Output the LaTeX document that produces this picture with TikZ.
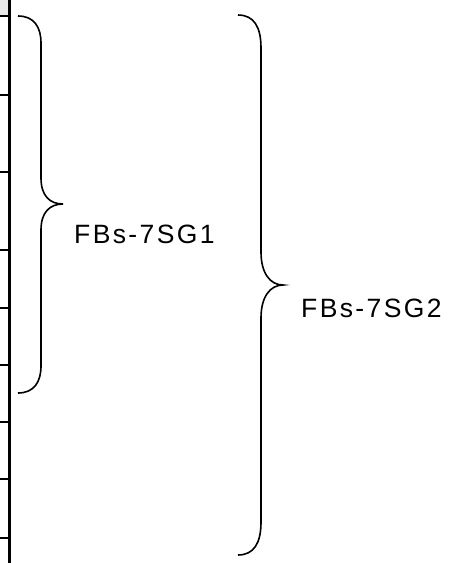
\documentclass[tikz,border=0pt]{standalone}
\usepackage{fontspec}
\newfontfamily\bracefont{Liberation Sans}[LetterSpace=9]
\usetikzlibrary{positioning}

\begin{document}
\begin{tikzpicture}[x=1pt,y=-1pt]
			\tikzstyle{every node}=[font=\bracefont\fontsize{26.5}{30}\selectfont, inner sep=0pt]
			\useasboundingbox (0,0) rectangle (453,563);
			\fill [gray!18] (0,0) rectangle (9,15.7);
			\draw [line width=2.6pt] (9.3,0) -- (9.3,563);
			\foreach \y in {15.7,95,172,250,308,365,422,479,538}
				\draw [line width=2pt] (0,\y) -- (9.3,\y);
			% FBs-7SG1
			\draw [line width=1.6pt] (18,16) .. controls (34,16) and (41,27) .. (41,43) -- (41,178) .. controls (41,196) and (50,204) .. (63,204) .. controls (50,204) and (41,212) .. (41,230) -- (41,366) .. controls (41,382) and (34,393) .. (18,393);
			\node [anchor=base west] (sg1) at (74,243) {FBs-7SG1};
			% FBs-7SG2
			\draw [line width=1.6pt] (238,15) .. controls (254,15) and (261,27) .. (261,48) -- (261,252) .. controls (261,273) and (270,285) .. (283,285) .. controls (270,285) and (261,297) .. (261,318) -- (261,522) .. controls (261,543) and (254,555) .. (238,555);
			\node [anchor=base west] (sg2) at (301,317) {FBs-7SG2};
		\end{tikzpicture}
\end{document}
